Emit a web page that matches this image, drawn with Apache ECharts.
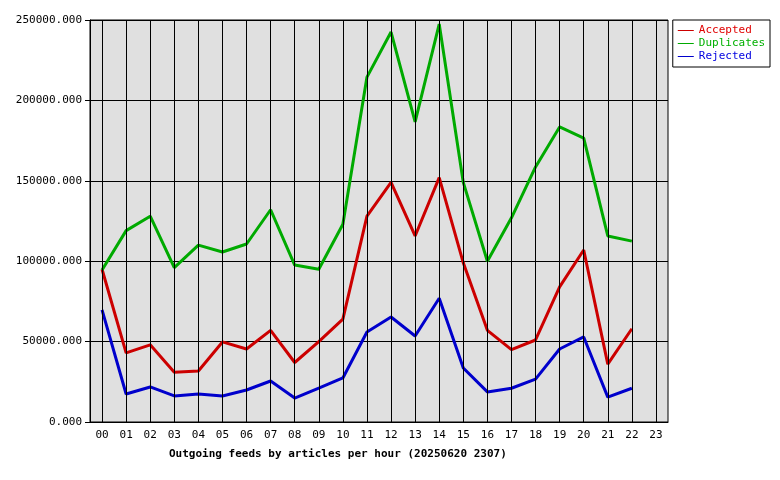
<!DOCTYPE html><html><head><meta charset="utf-8">
<script src="https://cdn.jsdelivr.net/npm/echarts@6/dist/echarts.min.js"></script>
<style>html,body{margin:0;background:#fff}#c{width:780px;height:480px}</style></head><body><div id="c"></div>
<script>
const hours=['00','01','02','03','04','05','06','07','08','09','10','11','12','13','14','15','16','17','18','19','20','21','22','23'];
const accepted=[95000,43000,48000,31000,31700,49800,45400,57000,37000,50000,64000,128000,149000,115700,152000,99000,57000,45000,51000,84000,107000,36000,58000,null];
const duplicates=[94500,119000,128000,96000,110000,105700,110700,132000,97600,95000,123000,214500,242500,186600,247500,149000,100000,127000,158600,183500,176600,115700,112500,null];
const rejected=[69700,17400,21800,16200,17400,16200,19900,25500,14900,21000,27400,56000,65300,53500,77000,33600,18700,21000,26700,45400,52900,15500,21000,null];
const font='DejaVu Sans Mono';
function s(name,data,color,extra){return Object.assign({name,type:'line',data,symbol:'none',lineStyle:{color,width:3},itemStyle:{color},animation:false},extra||{});}
const chart=echarts.init(document.getElementById('c'));
chart.setOption({
 backgroundColor:'#fff',animation:false,
 title:{text:'Outgoing feeds by articles per hour (20250620 2307)',left:164,top:444,textStyle:{fontFamily:font,fontSize:11,fontWeight:'bold',color:'#000'}},
 legend:{orient:'vertical',right:10,top:20,width:90,itemGap:2,padding:[5,5,5,5],borderColor:'#000',borderWidth:1,itemWidth:16,itemHeight:8,icon:'path://M0,4 L16,4 L16,5 L0,5 Z',
  data:[{name:'Accepted',textStyle:{color:'#e00000'}},{name:'Duplicates',textStyle:{color:'#00b000'}},{name:'Rejected',textStyle:{color:'#0000e0'}}],
  textStyle:{fontFamily:font,fontSize:11},align:'left'},
 grid:{left:90,right:112,top:20,bottom:58,backgroundColor:'#e0e0e0',show:true,borderColor:'#000',borderWidth:1},
 xAxis:{type:'category',data:hours,boundaryGap:true,axisLine:{lineStyle:{color:'#000'}},axisTick:{alignWithLabel:true,lineStyle:{color:'#000'}},
  splitLine:{show:false},axisLabel:{fontFamily:font,fontSize:11,color:'#000'}},
 yAxis:{type:'value',min:0,max:250000,interval:50000,axisLine:{show:true,lineStyle:{color:'#000'}},axisTick:{show:true,lineStyle:{color:'#000'}},
  splitLine:{lineStyle:{color:'#000'}},axisLabel:{fontFamily:font,fontSize:11,color:'#000',formatter:v=>v.toFixed(3)}},
 series:[
  s('Accepted',accepted,'#cc0000',{z:3,markLine:{silent:true,symbol:'none',label:{show:false},lineStyle:{color:'#000',type:'solid',width:1},data:hours.map(h=>({xAxis:h}))}}),
  s('Duplicates',duplicates,'#00aa00'),
  s('Rejected',rejected,'#0000cc')
 ]
});
</script></body></html>
